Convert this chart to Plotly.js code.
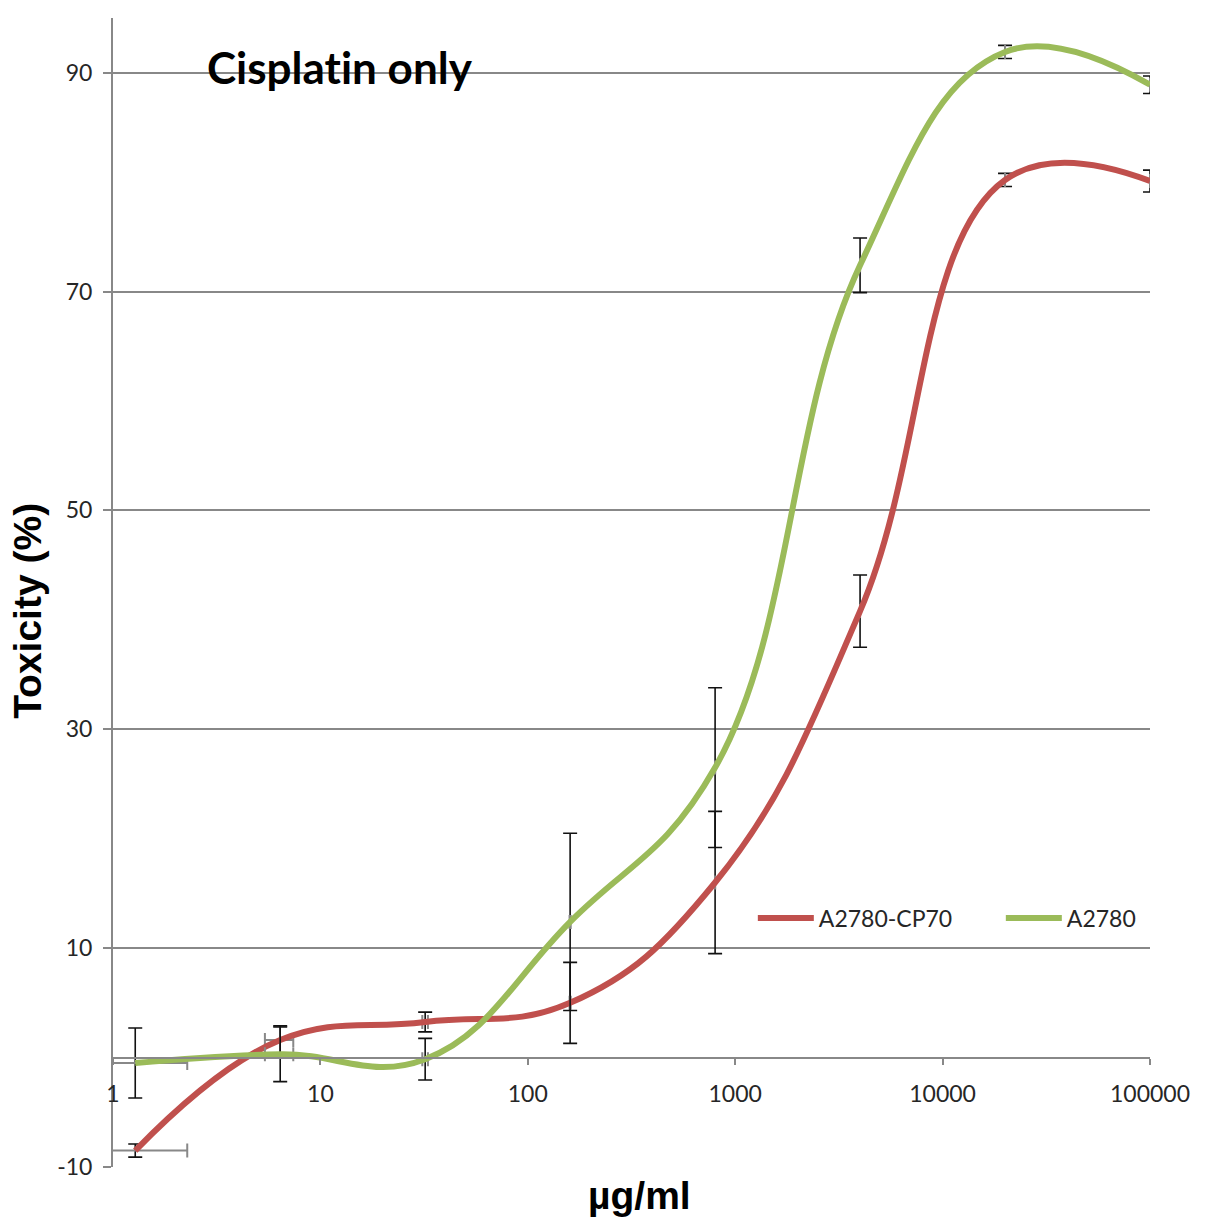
<!DOCTYPE html>
<html>
<head>
<meta charset="utf-8">
<script src="https://cdn.plot.ly/plotly-3.0.1.min.js"></script>
<style>
  html, body { margin: 0; padding: 0; background: #ffffff; }
  #plot { width: 1205px; height: 1227px; }
</style>
</head>
<body>
<div id="plot"></div>
<script>
// ----- 数据：稀释系列 (µg/ml)，每步 ÷5 -----
const doses      = [1.28, 6.4, 32, 160, 800, 4000, 20000, 100000];

// A2780-CP70（耐药株）
const cp70Tox    = [-8.5, 1.6, 3.25, 5.0, 16.0, 40.8, 80.2, 80.1];
const cp70Err    = [0.6, 1.3, 0.9, 3.7, 6.5, 3.3, 0.6, 1.0];

// A2780（敏感株）
const a2780Tox   = [-0.5, 0.3, -0.15, 12.4, 26.5, 72.4, 91.9, 88.9];
const a2780Err   = [3.2, 2.5, 1.9, 8.1, 7.3, 2.5, 0.6, 0.8];

const doseErr    = 1;   // 横向误差棒（固定值）

// ----- 坐标轴刻度 -----
const xTickVals  = [1, 10, 100, 1000, 10000, 100000];
const xTickText  = ["1", "10", "100", "1000", "10000", "100000"];
const yTickVals  = [-10, 10, 30, 50, 70, 90];
const yTickText  = ["-10", "10", "30", "50", "70", "90"];
const yRange     = [-10, 95];

const RED   = "#c0504d";
const GREEN = "#9bbb59";
const GRID  = "#888888";
const TITLE_FONT = { family: "'Liberation Sans', Arial, sans-serif", size: 39, color: "#000000", weight: "bold" };

function series(name, y, err, color) {
  return {
    name: name,
    type: "scatter",
    mode: "lines",
    x: doses,
    y: y,
    line: { color: color, width: 6, shape: "spline", smoothing: 1.2 },
    error_y: { type: "data", array: err, visible: true, color: "#111111", thickness: 1.6, width: 7 },
    error_x: { type: "constant", value: doseErr, visible: true, color: GRID, thickness: 2, width: 7 },
    hovertemplate: "%{x} µg/ml<br>%{y}%<extra>" + name + "</extra>"
  };
}

const traces = [
  series("A2780-CP70", cp70Tox, cp70Err, RED),
  series("A2780", a2780Tox, a2780Err, GREEN)
];

// x 轴横穿 y=0
const zeroPos = (0 - yRange[0]) / (yRange[1] - yRange[0]);

const layout = {
  width: 1205,
  height: 1227,
  margin: { l: 113, r: 55, t: 18, b: 60, autoexpand: false },
  paper_bgcolor: "#ffffff",
  plot_bgcolor: "#ffffff",
  font: { family: "Lato, 'Open Sans', sans-serif", color: "#262626" },
  showlegend: true,
  legend: {
    orientation: "h",
    x: 0.617, xanchor: "left",
    y: 0.2167, yanchor: "middle",
    bgcolor: "rgba(0,0,0,0)",
    font: { size: 23, color: "#262626" },
    itemwidth: 56,
    entrywidth: 177,
    entrywidthmode: "pixels"
  },
  xaxis: {
    type: "log",
    range: [0, 5],
    anchor: "free",
    position: zeroPos,
    showline: true,
    linecolor: GRID,
    linewidth: 2,
    showgrid: false,
    zeroline: false,
    ticks: "outside",
    ticklen: 6,
    tickwidth: 2,
    tickcolor: GRID,
    tickvals: xTickVals,
    ticktext: xTickText,
    ticklabelstandoff: 10,
    tickfont: { size: 23, color: "#262626" }
  },
  yaxis: {
    range: yRange,
    showline: true,
    linecolor: GRID,
    linewidth: 2,
    showgrid: true,
    gridcolor: GRID,
    gridwidth: 2,
    zeroline: false,
    ticks: "outside",
    ticklen: 8,
    tickwidth: 2,
    tickcolor: GRID,
    tickvals: yTickVals,
    ticktext: yTickText,
    ticklabelstandoff: 6,
    tickfont: { size: 23, color: "#262626" }
  },
  shapes: [
    // 图例底色：遮住 10 这条网格线的右段
    {
      type: "rect", xref: "paper", yref: "y",
      x0: 0.566, x1: 1, y0: 8, y1: 12,
      fillcolor: "#ffffff", line: { width: 0 }, layer: "between"
    }
  ],
  annotations: [
    {
      // \u200C 拆开 Lato 的 "ti" 连字
      text: "<b>Cisplat\u200Cin only</b>",
      xref: "paper", yref: "paper",
      x: 0.089, y: 0.957, xanchor: "left", yanchor: "middle",
      showarrow: false,
      font: { family: "Lato, 'Open Sans', sans-serif", size: 44, color: "#000000" }
    },
    // 坐标轴标题
    {
      text: "µg/ml",
      xref: "paper", yref: "paper",
      x: 0.508, y: -0.0252, xanchor: "center", yanchor: "middle",
      showarrow: false,
      font: TITLE_FONT
    },
    {
      text: "Toxicity (%)",
      xref: "paper", yref: "paper",
      x: -0.082, y: 0.484, xanchor: "center", yanchor: "middle",
      textangle: -90,
      showarrow: false,
      font: TITLE_FONT
    }
  ]
};

Plotly.newPlot("plot", traces, layout, { displayModeBar: false, staticPlot: true });
</script>
</body>
</html>
